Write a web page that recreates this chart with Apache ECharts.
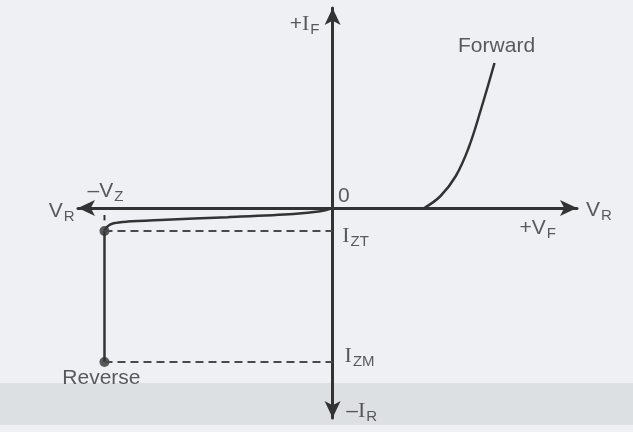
<!DOCTYPE html>
<html>
<head>
<meta charset="utf-8">
<script src="https://cdn.jsdelivr.net/npm/echarts@6/dist/echarts.min.js"></script>
<style>
html,body{margin:0;padding:0;background:#eef0f3;}
#chart{width:633px;height:432px;}
</style>
</head>
<body>
<div id="chart"></div>
<script>
// zener diode V-I characteristic, x = voltage, y = current (arbitrary units)
var vz = -4.48;
var izt = -1.15;
var izm = -7.7;

var forwardCurve = [[1.8,0],[2.12,0.6],[2.42,1.6],[2.67,3.0],[2.91,4.9],[3.18,7.25]];
var reverseKnee = [[0,0],[-0.24,-0.16],[-0.77,-0.3],[-2.06,-0.46],[-3.38,-0.6],[-4.03,-0.68],[-4.3,-0.76],[-4.42,-0.92],[vz,izt]];
var breakdown = [[vz,izt],[vz,izm]];
var iztLine = [[vz,izt],[0,izt]];
var izmLine = [[vz,izm],[0,izm]];
var vzTick = [[vz,-0.35],[vz,-0.62]];

// label anchor points [x, y, text]
var labels = [
	[-0.55, 9.2, '{m|+}{i|I}{s|F}'],
	[3.22, 8.1, '{w|Forward}'],
	[0.22, 0.6, '{m|0}'],
	[-4.46, 0.85, '{m|\u2013V}{s|Z}'],
	[-5.32, -0.15, '{m|V}{s|R}'],
	[5.23, -0.1, '{m|V}{s|R}'],
	[4.03, -1.0, '{m|+V}{s|F}'],
	[0.45, -1.4, '{i|I}{s|ZT}'],
	[0.53, -7.4, '{i|I}{s|ZM}'],
	[0.57, -10.15, '{m|\u2013}{i|I}{s|R}'],
	[-4.54, -8.5, '{w|Reverse}']
];

var ink = '#333';
var mychart = echarts.init(document.getElementById('chart'));

function lineSeries(data, opts){
	var s = {
		type:'line',
		data:data,
		symbol:'none',
		silent:true,
		lineStyle:{color:ink, width:2.5}
	};
	for (var k in opts) s[k] = opts[k];
	return s;
}

var option = {
	backgroundColor:'#eef0f3',
	animation:false,
	graphic:[{
		type:'rect',
		shape:{x:0, y:383, width:633, height:42},
		style:{fill:'#dde0e3'},
		z:-10
	}],
	grid:{left:78, right:56, top:8, bottom:14},
	xAxis:{
		type:'value',
		min:-5, max:4.8,
		axisLine:{onZero:true, symbol:['arrow','arrow'], symbolSize:[12,17], lineStyle:{color:ink, width:3}},
		axisTick:{show:false},
		axisLabel:{show:false},
		splitLine:{show:false}
	},
	yAxis:{
		type:'value',
		min:-10.5, max:10,
		axisLine:{onZero:true, symbol:['arrow','arrow'], symbolSize:[12,17], lineStyle:{color:ink, width:3}},
		axisTick:{show:false},
		axisLabel:{show:false},
		splitLine:{show:false}
	},
	series:[
		lineSeries(forwardCurve, {smooth:0.4}),
		lineSeries(reverseKnee, {smooth:0.3}),
		lineSeries(breakdown, {}),
		lineSeries(vzTick, {lineStyle:{color:ink, width:2}}),
		lineSeries(iztLine, {lineStyle:{color:'#4a4a4a', width:2, type:[8,5]}}),
		lineSeries(izmLine, {lineStyle:{color:'#4a4a4a', width:2, type:[8,5]}}),
		{
			type:'scatter',
			data:[[vz,izt],[vz,izm]],
			symbolSize:10,
			itemStyle:{color:ink},
			silent:true
		},
		{
			type:'scatter',
			data:labels,
			symbolSize:0,
			clip:false,
			silent:true,
			label:{
				show:true,
				position:'inside',
				formatter:function(p){ return p.data[2]; },
				rich:{
					m:{fontFamily:'Liberation Sans', fontSize:21, color:ink},
					w:{fontFamily:'Liberation Sans', fontSize:21, color:ink},
					i:{fontFamily:'Liberation Serif', fontSize:22, color:ink},
					s:{fontFamily:'Liberation Sans', fontSize:15, color:ink, padding:[12,0,0,1]}
				}
			}
		}
	]
};
mychart.setOption(option);
</script>
</body>
</html>
